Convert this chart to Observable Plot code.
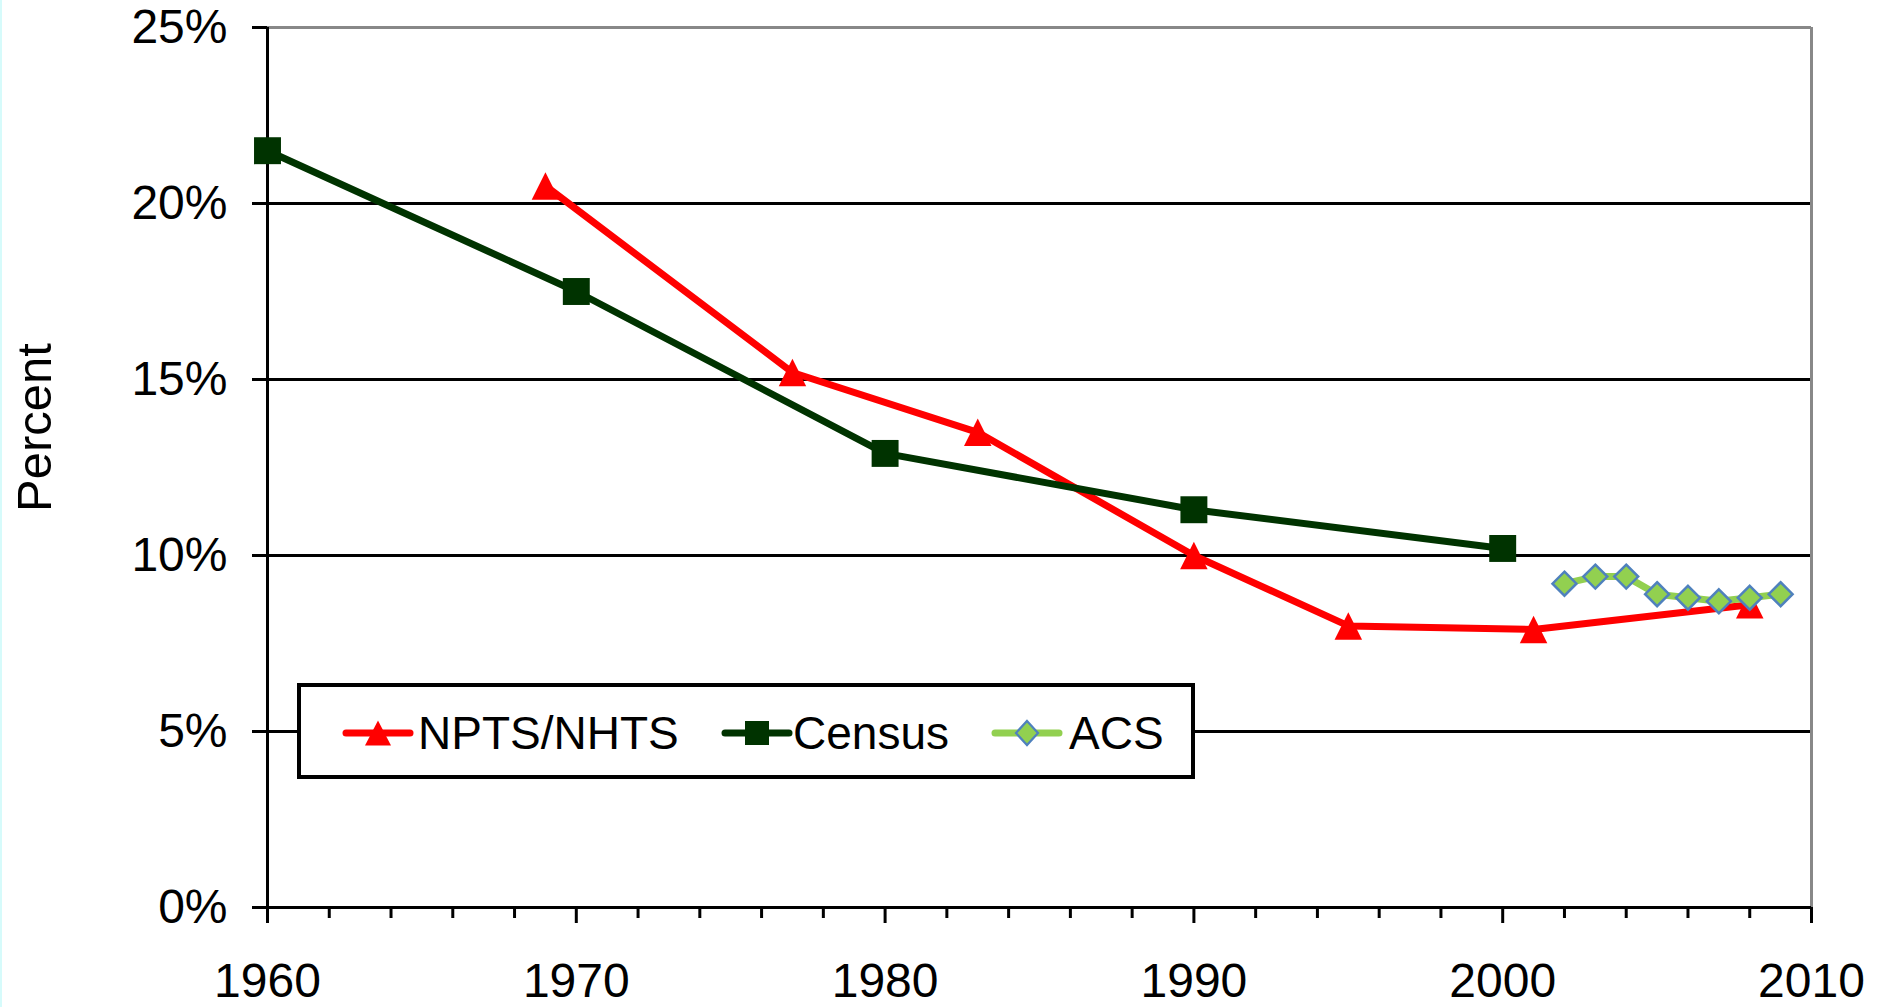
<!DOCTYPE html>
<html>
<head>
<meta charset="utf-8">
<script src="https://cdn.jsdelivr.net/npm/d3@7"></script>
<script src="https://cdn.jsdelivr.net/npm/@observablehq/plot@0.6"></script>
<style>
  html, body { margin: 0; padding: 0; background: #fff; }
  #wrap { position: relative; width: 1884px; height: 1007px; overflow: hidden; font-family: "Liberation Sans", Arial, sans-serif; background: #fff; }
  #wrap svg { display: block; position: absolute; left: 0; top: 0; }
  #edge { position: absolute; left: 0; top: 0; width: 2px; height: 1007px; background: #d6fbfb; z-index: 3; }
  #legend { position: absolute; left: 297px; top: 683px; width: 890px; height: 88px; border: 4px solid #000; background: #fff; z-index: 2; }
  .item-sw { position: absolute; top: 31px; width: 72px; height: 30px; }
  .item-tx { position: absolute; top: 20px; font-size: 46px; line-height: 52px; color: #000; white-space: nowrap; }
</style>
</head>
<body>
<div id="wrap">
  <div id="edge"></div>
  <div id="legend"></div>
</div>
<script>
// ---- data ----
const nptsYears = [1969, 1977, 1983, 1990, 1995, 2001, 2008];
const nptsValues = [20.5, 15.2, 13.5, 10.0, 8.0, 7.9, 8.6];

const censusYears = [1960, 1970, 1980, 1990, 2000];
const censusValues = [21.5, 17.5, 12.9, 11.3, 10.2];

const acsYears = [2002, 2003, 2004, 2005, 2006, 2007, 2008, 2009];
const acsValues = [9.2, 9.4, 9.4, 8.9, 8.8, 8.7, 8.8, 8.9];

const yTicks = [0, 5, 10, 15, 20, 25];
const xTicks = [1960, 1970, 1980, 1990, 2000, 2010];
const xMinorTicks = [1962, 1964, 1966, 1968, 1972, 1974, 1976, 1978, 1982, 1984, 1986, 1988,
                     1992, 1994, 1996, 1998, 2002, 2004, 2006, 2008];
const seriesNames = ["NPTS/NHTS", "Census", "ACS"];

// ---- tables ----
const npts = nptsYears.map((year, i) => ({year, value: nptsValues[i]}));
const census = censusYears.map((year, i) => ({year, value: censusValues[i]}));
const acs = acsYears.map((year, i) => ({year, value: acsValues[i]}));

const RED = "#ff0000", DKGREEN = "#003300", LTGREEN = "#92d050", BLUE = "#4f81bd";

// custom symbols (Excel-like)
const triangle = {draw(ctx, size) { const s = Math.sqrt(size); ctx.moveTo(0, -s / 2); ctx.lineTo(s / 2, s / 2); ctx.lineTo(-s / 2, s / 2); ctx.closePath(); }};
const diamond = {draw(ctx, size) { const h = Math.sqrt(size) / 2; ctx.moveTo(0, -h); ctx.lineTo(h, 0); ctx.lineTo(0, h); ctx.lineTo(-h, 0); ctx.closePath(); }};

const lineOpts = {x: "year", y: "value", strokeWidth: 7, strokeLinejoin: "round", strokeLinecap: "round"};

const chart = Plot.plot({
  width: 1884,
  height: 1007,
  marginLeft: 267,
  marginRight: 73,
  marginTop: 27,
  marginBottom: 100,
  style: {fontFamily: "Liberation Sans, Arial, sans-serif", fontSize: "48px", color: "#000", background: "transparent", overflow: "visible"},
  x: {domain: [1960, 2010], label: null},
  y: {domain: [0, 25], label: null},
  marks: [
    Plot.ruleY(yTicks.filter(d => d > 0 && d < 25), {stroke: "#000", strokeWidth: 3}),
    Plot.ruleY([25], {stroke: "#888", strokeWidth: 3}),
    Plot.ruleX([2010], {stroke: "#888", strokeWidth: 3}),
    Plot.ruleY([0], {stroke: "#000", strokeWidth: 3}),
    Plot.ruleX([1960], {stroke: "#000", strokeWidth: 3}),
    Plot.axisY({ticks: yTicks, tickSize: 15, tickPadding: 25, tickFormat: d => d + "%", strokeWidth: 3, fontSize: 48, label: null}),
    Plot.axisX({ticks: xTicks, tickSize: 16, tickPadding: 39, tickFormat: d3.format("d"), strokeWidth: 3, fontSize: 48, label: null}),
    Plot.axisX({ticks: xMinorTicks, tickSize: 11, tickFormat: () => "", strokeWidth: 3, label: null}),
    Plot.text(["Percent"], {text: d => d, frameAnchor: "left", textAnchor: "middle", dx: -232, dy: -40, rotate: -90, fontSize: 49, fill: "#000"}),
    // NPTS/NHTS
    Plot.line(npts, {...lineOpts, stroke: RED}),
    Plot.dot(npts, {x: "year", y: "value", symbol: triangle, r: 15.5, fill: RED, stroke: null}),
    // Census
    Plot.line(census, {...lineOpts, stroke: DKGREEN}),
    Plot.dot(census, {x: "year", y: "value", symbol: "square", r: 15.2, fill: DKGREEN, stroke: null}),
    // ACS
    Plot.line(acs, {...lineOpts, stroke: LTGREEN}),
    Plot.dot(acs, {x: "year", y: "value", symbol: diamond, r: 13.5, fill: LTGREEN, stroke: BLUE, strokeWidth: 2.5})
  ]
});
document.getElementById("wrap").appendChild(chart);

// ---- legend (HTML overlay) ----
const legend = document.getElementById("legend");
const swatchMarkers = [
  `<polygon points="36,2.5 49,27.5 23,27.5" fill="${RED}"/>`,
  `<rect x="24" y="3" width="24" height="24" fill="${DKGREEN}"/>`,
  `<polygon points="36,3 47,15 36,27 25,15" fill="${LTGREEN}" stroke="${BLUE}" stroke-width="2.2"/>`
];
const swatchColors = [RED, DKGREEN, LTGREEN];
const swatchLeft = [41, 420, 690];
const textLeft = [117, 492, 768];
seriesNames.forEach((name, i) => {
  const sw = document.createElement("div");
  sw.className = "item-sw";
  sw.style.left = swatchLeft[i] + "px";
  sw.innerHTML = `<svg width="72" height="30" viewBox="0 0 72 30"><line x1="4" y1="15" x2="68" y2="15" stroke="${swatchColors[i]}" stroke-width="7" stroke-linecap="round"/>${swatchMarkers[i]}</svg>`;
  legend.appendChild(sw);
  const tx = document.createElement("div");
  tx.className = "item-tx";
  tx.style.left = textLeft[i] + "px";
  tx.textContent = name;
  legend.appendChild(tx);
});
</script>
</body>
</html>
